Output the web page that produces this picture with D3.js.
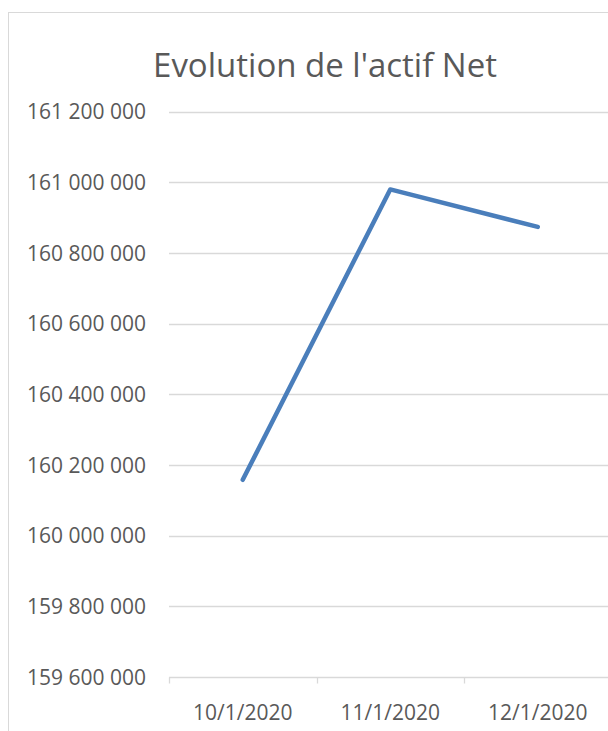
<!DOCTYPE html>
<html>
<head>
<meta charset="utf-8">
<script src="https://cdn.jsdelivr.net/npm/d3@7"></script>
<style>
  html, body { margin: 0; padding: 0; background: #fff; }
  svg { display: block; }
  text { font-family: "Open Sans", "Noto Sans", sans-serif; fill: #595959; }
</style>
</head>
<body>
<svg id="chart" width="608" height="731"></svg>
<script>
const title = "Evolution de l'actif Net";
const categories = ["10/1/2020", "11/1/2020", "12/1/2020"];
const values = [160158000, 160980000, 160874000];
const yTicks = [159600000, 159800000, 160000000, 160200000, 160400000, 160600000, 160800000, 161000000, 161200000];

const svg = d3.select("#chart");
const W = 608, H = 731;

// outer chart border
svg.append("rect")
  .attr("x", 8.5).attr("y", 12.5)
  .attr("width", 700).attr("height", 800)
  .attr("fill", "none").attr("stroke", "#d9d9d9").attr("stroke-width", 1);

const plot = { left: 169, right: 611.5, top: 111.7, bottom: 677 };

const x = d3.scaleBand().domain(categories).range([plot.left, plot.right]);
const y = d3.scaleLinear().domain([159600000, 161200000]).range([plot.bottom, plot.top]);

const fmt = v => d3.format(",")(v).replace(/,/g, " ");

// gridlines
svg.append("g").selectAll("line").data(yTicks.filter(t => t !== 159600000)).join("line")
  .attr("x1", plot.left).attr("x2", W + 10)
  .attr("y1", d => Math.round(y(d)) + 0.5).attr("y2", d => Math.round(y(d)) + 0.5)
  .attr("stroke", "#d9d9d9").attr("stroke-width", 1.3);

// y axis labels
const yAxis = d3.axisLeft(y).tickValues(yTicks).tickFormat(fmt).tickSize(0).tickPadding(0);
const gy = svg.append("g").attr("transform", `translate(146,0)`).call(yAxis);
gy.select(".domain").remove();
gy.selectAll("text").attr("font-size", 21).attr("fill", "#595959")
  .attr("font-family", "Open Sans").attr("dy", "0.34em");

// x axis
const xAxis = d3.axisBottom(x).tickSize(0).tickPadding(0);
const gx = svg.append("g").attr("transform", `translate(0,${Math.round(plot.bottom) + 0.5})`).call(xAxis);
gx.select(".domain").attr("stroke", "#d9d9d9").attr("stroke-width", 1.3)
  .attr("d", `M${plot.left},0H${W + 10}`);
gx.selectAll("text").attr("font-size", 21).attr("fill", "#595959")
  .attr("font-family", "Open Sans").attr("y", 42).attr("dy", 0);
// category boundary tick marks
const bounds = categories.map(c => x(c)).concat([plot.right]);
gx.append("g").selectAll("line").data(bounds).join("line")
  .attr("x1", d => Math.round(d) + 0.5).attr("x2", d => Math.round(d) + 0.5)
  .attr("y1", 0).attr("y2", 6)
  .attr("stroke", "#d9d9d9").attr("stroke-width", 1.3);

// line
const line = d3.line()
  .x((d, i) => x(categories[i]) + x.bandwidth() / 2)
  .y(d => y(d));
svg.append("path").datum(values)
  .attr("d", line)
  .attr("fill", "none").attr("stroke", "#4a7ebb")
  .attr("stroke-width", 4.5).attr("stroke-linecap", "round").attr("stroke-linejoin", "round");

// title
svg.append("text")
  .attr("x", 325).attr("y", 77)
  .attr("text-anchor", "middle")
  .attr("font-size", 33)
  .attr("fill", "#595959")
  .text(title);
</script>
</body>
</html>
